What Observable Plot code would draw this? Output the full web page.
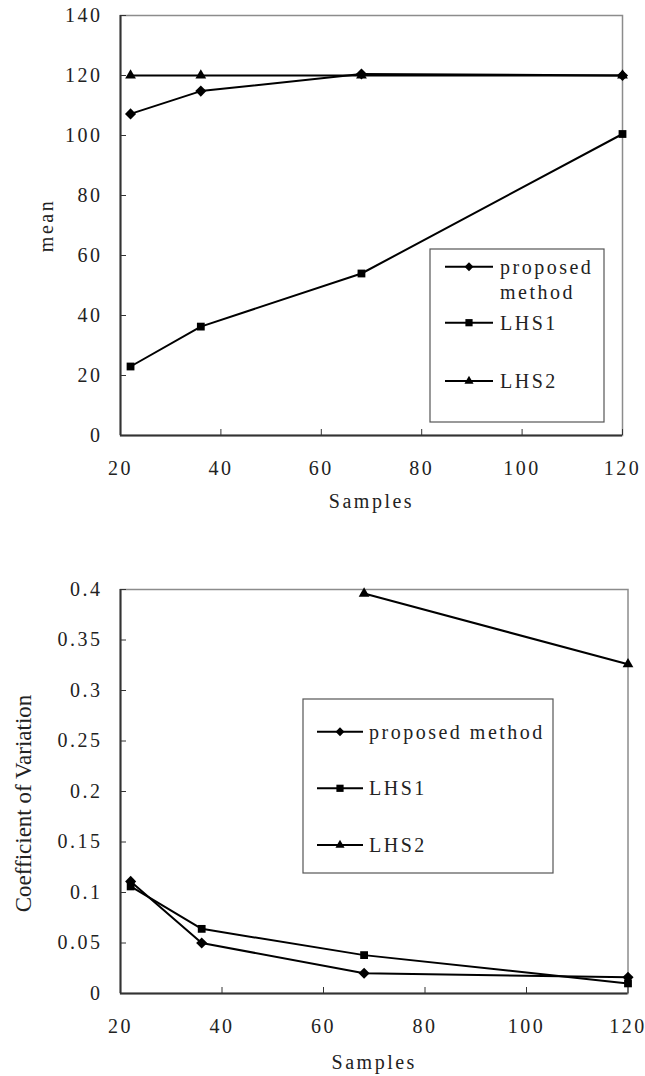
<!DOCTYPE html>
<html><head><meta charset="utf-8">
<script src="https://cdn.jsdelivr.net/npm/d3@7"></script>
<script src="https://cdn.jsdelivr.net/npm/@observablehq/plot@0.6"></script>
<style>
html,body{margin:0;padding:0;background:#fff;overflow:hidden;}
#wrap{width:645px;}
#wrap svg{display:block;}
</style></head><body><div id="wrap"></div>
<script>
const samples = [22, 36, 68, 120];
const seriesNames = ["proposed method", "LHS1", "LHS2"];
const meanProposed = [107.2, 114.8, 120.5, 120];
const meanLHS1 = [23, 36.3, 54, 100.5];
const meanLHS2 = [120, 120, 120, 120];
const cvProposed = [0.111, 0.05, 0.02, 0.016];
const cvLHS1 = [0.106, 0.064, 0.038, 0.01];
const cvLHS2Samples = [68, 120];
const cvLHS2 = [0.396, 0.326];
const xTicks = [20, 40, 60, 80, 100, 120];
const meanTicks = [0, 20, 40, 60, 80, 100, 120, 140];
const cvTicks = [0, 0.05, 0.1, 0.15, 0.2, 0.25, 0.3, 0.35, 0.4];
const cvTickLabels = ["0", "0.05", "0.1", "0.15", "0.2", "0.25", "0.3", "0.35", "0.4"];
const xLabel = "Samples";
const meanLabel = "mean";
const cvLabel = "Coefficient of Variation";

const symbolsPlot = {"proposed method": ["diamond2", 5], "LHS1": ["square", 4.4], "LHS2": ["triangle", 4]};
const symbolsD3 = {"proposed method": [d3.symbolDiamond2, 50], "LHS1": [d3.symbolSquare, 52], "LHS2": [d3.symbolTriangle, 36]};

function rows(xs, ys, name) { return xs.map((x, i) => ({x, y: ys[i], series: name})); }

const meanData = [
  ...rows(samples, meanProposed, seriesNames[0]),
  ...rows(samples, meanLHS1, seriesNames[1]),
  ...rows(samples, meanLHS2, seriesNames[2])
];
const cvData = [
  ...rows(samples, cvProposed, seriesNames[0]),
  ...rows(samples, cvLHS1, seriesNames[1]),
  ...rows(cvLHS2Samples, cvLHS2, seriesNames[2])
];

const FONT = "'Liberation Serif', 'Times New Roman', serif";
const SPACING = "2.5px";

function chart(o) {
  const marks = [
    Plot.frame({stroke: "#8c8c8c", strokeWidth: 1.5}),
    Plot.ruleX([20], {stroke: "#333", strokeWidth: 2}),
    Plot.ruleY([0], {stroke: "#333", strokeWidth: 2}),
    Plot.axisX({ticks: xTicks, tickSize: -6, tickPadding: 31, label: null, stroke: "#333", fill: "#222", fontSize: 20}),
    Plot.axisY({ticks: o.yTicks, tickSize: -6, tickPadding: 24, label: null, tickFormat: o.yFormat, stroke: "#333", fill: "#222", fontSize: 20}),
    Plot.text([xLabel], {frameAnchor: "bottom", dy: o.xLabelDy, lineAnchor: "bottom", textAnchor: "middle", fill: "#222", fontSize: 20}),
    Plot.text([o.yLabel], {frameAnchor: "left", dx: o.yLabelDx, dy: o.yLabelDy, rotate: -90, textAnchor: "middle", fill: "#222", fontSize: o.yLabelSize}),
    Plot.line(o.data, {x: "x", y: "y", z: "series", stroke: "#000", strokeWidth: 2})
  ];
  for (const s of seriesNames) {
    const [sym, r] = symbolsPlot[s];
    marks.push(Plot.dot(o.data.filter(d => d.series === s), {x: "x", y: "y", symbol: sym, r, fill: "#000", stroke: "none"}));
  }
  const svg = Plot.plot({
    width: 645, height: o.height,
    marginLeft: 120, marginRight: o.marginRight, marginTop: o.marginTop, marginBottom: o.marginBottom,
    style: {fontFamily: FONT, fontSize: "20px", color: "#222", background: "white", overflow: "visible", letterSpacing: SPACING},
    x: {domain: [20, 120]},
    y: {domain: o.yDomain},
    marks
  });
  if (!o.yLabelSpaced) {
    d3.select(svg).selectAll("text").filter(function() { return this.textContent === o.yLabel; })
      .style("letter-spacing", "0px");
  }
  return svg;
}

function addLegend(svg, L) {
  const g = d3.select(svg).append("g").attr("font-family", FONT).attr("font-size", 20)
    .attr("fill", "#222").attr("text-anchor", "start");
  g.append("rect").attr("x", L.x).attr("y", L.y).attr("width", L.w).attr("height", L.h)
    .attr("fill", "white").attr("stroke", "#555").attr("stroke-width", 1.2);
  L.rows.forEach((r, i) => {
    const name = seriesNames[i];
    g.append("line").attr("x1", L.lineX1).attr("x2", L.lineX2).attr("y1", r.y).attr("y2", r.y)
      .attr("stroke", "#000").attr("stroke-width", 2);
    const [sym, size] = symbolsD3[name];
    g.append("path").attr("transform", `translate(${L.markX},${r.y})`).attr("d", d3.symbol(sym, size)()).attr("fill", "#000");
    const lines = L.wrap && i === 0 ? name.split(" ") : [name];
    const t = g.append("text").attr("x", L.textX).attr("y", r.y);
    lines.forEach((ln, j) => t.append("tspan").attr("x", L.textX).attr("dy", j === 0 ? "0.35em" : "1.27em").text(ln));
  });
}

const wrapEl = document.getElementById("wrap");

const meanChart = chart({
  data: meanData, yDomain: [0, 140], yTicks: meanTicks, yFormat: d => String(d),
  height: 545, marginTop: 15, marginBottom: 110, marginRight: 23,
  xLabelDy: 72, yLabel: meanLabel, yLabelDx: -74, yLabelDy: 0, yLabelSize: 20, yLabelSpaced: true
});
addLegend(meanChart, {x: 430, y: 249, w: 174, h: 173, lineX1: 445, lineX2: 493, markX: 469, textX: 500, wrap: true,
  rows: [{y: 266.7}, {y: 322.7}, {y: 381}]});
wrapEl.appendChild(meanChart);

const cvChart = chart({
  data: cvData, yDomain: [0, 0.4], yTicks: cvTicks, yFormat: d => cvTickLabels[cvTicks.indexOf(d)],
  height: 531, marginTop: 44, marginBottom: 83, marginRight: 17.5,
  xLabelDy: 75, yLabel: cvLabel, yLabelDx: -97, yLabelDy: 12, yLabelSize: 23, yLabelSpaced: false
});
addLegend(cvChart, {x: 303, y: 154, w: 250, h: 174, lineX1: 317, lineX2: 363, markX: 340, textX: 369, wrap: false,
  rows: [{y: 186.7}, {y: 243.3}, {y: 300}]});
wrapEl.appendChild(cvChart);
</script>
</body></html>
